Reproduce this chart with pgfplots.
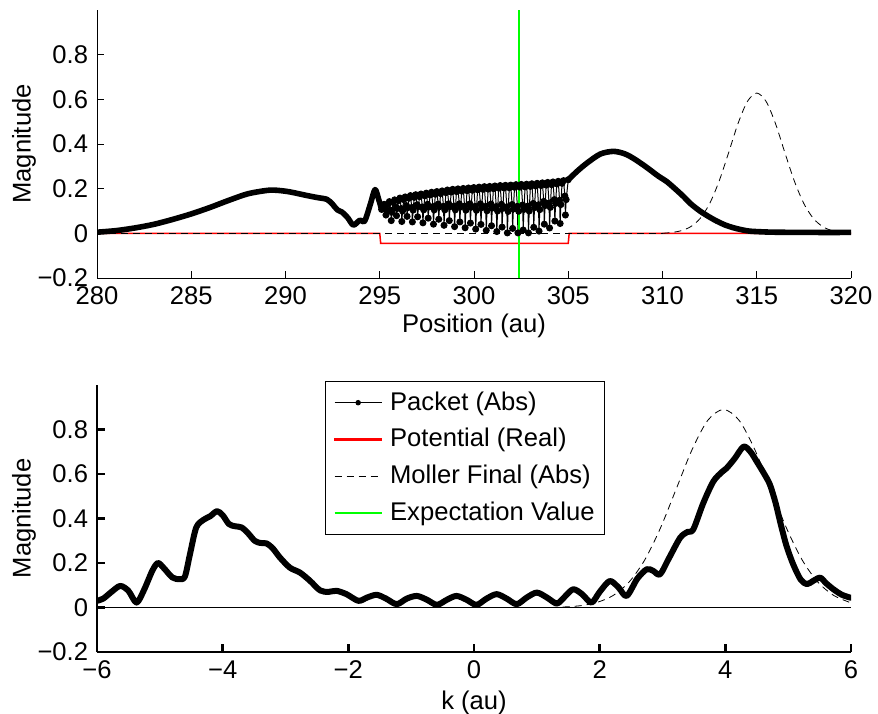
\documentclass[border=0pt]{standalone}
\usepackage{fontspec}
\setmainfont{Liberation Sans}
\usepackage{pgfplots}
\pgfplotsset{compat=1.18}
\definecolor{mgreen}{rgb}{0,1,0}
\definecolor{mred}{rgb}{1,0,0}
\begin{document}
\fontsize{12.8}{15}\selectfont
\begin{tikzpicture}
\useasboundingbox (0,0) rectangle (439pt,356.5pt);
% ---------------- top axis ----------------
\begin{axis}[
  at={(48.5pt,217.5pt)}, anchor=south west,
  scale only axis, width=377pt, height=134pt,
  xmin=280, xmax=320, ymin=-0.2, ymax=1,
  axis x line*=bottom, axis y line*=left,
  axis line style={line width=0.5pt,-},
  tick align=inside, major tick length=3.5pt,
  major tick style={line width=0.5pt,black},
  xtick={280,285,...,320},
  xticklabels={280,285,290,295,300,305,310,315,320},
  ytick={-0.2,0,0.2,0.4,0.6,0.8},
  yticklabels={−0.2,0,0.2,0.4,0.6,0.8},
  xlabel={Position (au)}, ylabel={Magnitude},
  ylabel style={at={(axis description cs:-0.0968,0.5)}, anchor=center},
  xlabel style={yshift=4.5pt},
  label style={font=\fontsize{12.8}{15}\selectfont},
  ticklabel style={font=\fontsize{12.8}{15}\selectfont},
]
% potential (real)
\addplot[mred, line width=0.75pt] coordinates {(280,0)(295,0)(295.05,-0.045)(305,-0.045)(305.05,0)(320,0)};
% moller final
\addplot[black, line width=0.4pt, dash pattern=on 3.5pt off 2.5pt] coordinates {(280,0)(310,0)};
\addplot[black, line width=0.4pt, dash pattern=on 3.5pt off 2.5pt, smooth] coordinates {
(310,0)(310.5,0.004)(311,0.012)(311.5,0.030)(312,0.067)(312.5,0.133)(313,0.233)(313.5,0.359)(314,0.490)(314.5,0.590)(315,0.628)(315.5,0.590)(316,0.490)(316.5,0.359)(317,0.233)(317.5,0.133)(318,0.067)(318.5,0.030)(319,0.012)(319.5,0.004)(320,0.001)};
% packet smooth parts
\addplot[black, line width=2.8pt, line join=round, line cap=round, smooth] coordinates {
(280,0.005)(281,0.012)(282,0.024)(283,0.04)(284,0.062)(285,0.087)(286,0.116)(287,0.148)(288,0.177)(289,0.192)(289.5,0.193)(290.2,0.186)(291.1,0.17)(291.7,0.16)(292.2,0.152)(292.5,0.13)(292.75,0.105)(293.0,0.095)(293.3,0.07)(293.6,0.037)(293.95,0.059)(294.2,0.055)(294.5,0.13)(294.75,0.196)(294.95,0.15)(295.1,0.107)};
\addplot[black, line width=2.8pt, line join=round, line cap=round, smooth] coordinates {
(305.0,0.24)(305.5,0.28)(306,0.315)(306.7,0.355)(307.4,0.367)(308,0.356)(308.45,0.336)(309,0.305)(309.34,0.284)(309.8,0.255)(310.22,0.232)(310.7,0.197)(311.1,0.166)(311.5,0.132)(312,0.099)(312.45,0.075)(312.87,0.055)(313.3,0.038)(313.76,0.025)(314.2,0.016)(314.6,0.01)(315.2,0.007)(316,0.005)(318,0.004)(320,0.004)};
% packet oscillating part
\addplot[black, line width=0.5pt, mark=*, mark size=1.5pt] coordinates {
(295.1,0.107)
(295.15,.118)(295.23,.130)(295.30,.108)(295.33,.082)(295.37,.104)
(295.43,.130)(295.51,.142)(295.58,.104)(295.61,.057)(295.65,.095)
(295.71,.138)(295.79,.150)(295.86,.118)(295.89,.079)(295.93,.111)
(295.99,.146)(296.07,.158)(296.14,.111)(296.17,.053)(296.21,.100)
(296.27,.151)(296.35,.163)(296.42,.124)(296.45,.076)(296.49,.115)
(296.55,.157)(296.63,.169)(296.70,.116)(296.73,.051)(296.77,.104)
(296.83,.161)(296.91,.173)(296.98,.128)(297.01,.074)(297.05,.119)
(297.11,.164)(297.19,.176)(297.26,.118)(297.29,.047)(297.33,.105)
(297.39,.168)(297.47,.180)(297.54,.130)(297.57,.068)(297.61,.118)
(297.67,.172)(297.75,.184)(297.82,.120)(297.85,.041)(297.89,.105)
(297.95,.175)(298.03,.187)(298.10,.131)(298.13,.063)(298.17,.119)
(298.23,.178)(298.31,.190)(298.38,.121)(298.41,.036)(298.45,.105)
(298.51,.182)(298.59,.194)(298.66,.132)(298.69,.057)(298.73,.119)
(298.79,.185)(298.87,.197)(298.94,.122)(298.97,.030)(299.01,.105)
(299.07,.187)(299.15,.199)(299.22,.132)(299.25,.051)(299.29,.118)
(299.35,.189)(299.43,.201)(299.50,.122)(299.53,.025)(299.57,.104)
(299.63,.191)(299.71,.203)(299.78,.132)(299.81,.046)(299.85,.117)
(299.91,.193)(299.99,.205)(300.06,.121)(300.09,.019)(300.13,.103)
(300.19,.195)(300.27,.207)(300.34,.132)(300.37,.040)(300.41,.115)
(300.47,.197)(300.55,.209)(300.62,.121)(300.65,.013)(300.69,.101)
(300.75,.198)(300.83,.210)(300.90,.131)(300.93,.034)(300.97,.113)
(301.03,.200)(301.11,.212)(301.18,.120)(301.21,.008)(301.25,.100)
(301.31,.202)(301.39,.214)(301.46,.130)(301.49,.028)(301.53,.112)
(301.59,.203)(301.67,.215)(301.74,.119)(301.77,.002)(301.81,.098)
(301.87,.204)(301.95,.216)(302.02,.129)(302.05,.022)(302.09,.109)
(302.15,.206)(302.23,.218)(302.30,.121)(302.33,.002)(302.37,.099)
(302.43,.207)(302.51,.219)(302.58,.127)(302.61,.015)(302.65,.107)
(302.71,.208)(302.79,.220)(302.86,.122)(302.89,.002)(302.93,.100)
(302.99,.210)(303.07,.222)(303.14,.134)(303.17,.027)(303.21,.115)
(303.27,.212)(303.35,.224)(303.42,.128)(303.45,.010)(303.49,.106)
(303.55,.214)(303.63,.226)(303.70,.143)(303.73,.041)(303.77,.124)
(303.83,.216)(303.91,.228)(303.98,.136)(304.01,.024)(304.05,.116)
(304.11,.218)(304.19,.230)(304.26,.151)(304.29,.055)(304.33,.134)
(304.39,.221)(304.47,.233)(304.54,.148)(304.57,.044)(304.61,.129)
(304.67,.224)(304.75,.236)(304.82,.167)(304.85,.082)(304.89,.151)
(305.0,.24)};
% expectation value
\addplot[mgreen, line width=1pt] coordinates {(302.39,-0.2)(302.39,1)};
\end{axis}
% ---------------- bottom axis ----------------
\begin{axis}[
  at={(48.5pt,30.5pt)}, anchor=south west,
  scale only axis, width=377pt, height=133.5pt,
  xmin=-6, xmax=6, ymin=-0.2, ymax=1,
  axis x line*=bottom, axis y line*=left,
  axis line style={line width=1.3pt,-},
  tick align=inside, major tick length=4pt,
  major tick style={line width=1.3pt,black},
  xtick={-6,-4,-2,0,2,4,6},
  xticklabels={−6,−4,−2,0,2,4,6},
  ytick={-0.2,0,0.2,0.4,0.6,0.8},
  yticklabels={−0.2,0,0.2,0.4,0.6,0.8},
  xlabel={k (au)}, ylabel={Magnitude},
  ylabel style={at={(axis description cs:-0.0968,0.5)}, anchor=center},
  xlabel style={yshift=3pt},
  label style={font=\fontsize{12.8}{15}\selectfont},
  ticklabel style={font=\fontsize{12.8}{15}\selectfont},
  legend style={at={(axis description cs:0.3026,1.015)}, anchor=north west,
    draw=black, line width=0.5pt, fill=white, inner xsep=4pt, inner ysep=3pt,
    nodes={inner xsep=1pt},
    row sep=3.2pt, font=\fontsize{12.8}{15}\selectfont, cells={anchor=west}},
  legend cell align=left,
]
\addlegendimage{legend image code/.code={\draw[black,line width=0.5pt] (0pt,0pt) -- (23.5pt,0pt); \fill[black] (11.75pt,0pt) circle (1.1pt); \path (26.5pt,0pt);}}
\addlegendentry{Packet (Abs)}
\addlegendimage{legend image code/.code={\fill[mred] (0pt,-0.35pt) rectangle (23.5pt,0.35pt); \path (26.5pt,0pt);}}
\addlegendentry{Potential (Real)}
\addlegendimage{legend image code/.code={\draw[black,line width=0.4pt,dash pattern=on 3.5pt off 2.5pt] (0pt,0pt) -- (23.5pt,0pt); \path (26.5pt,0pt);}}
\addlegendentry{Moller Final (Abs)}
\addlegendimage{legend image code/.code={\draw[mgreen,line width=1pt] (0pt,0pt) -- (23.5pt,0pt); \path (26.5pt,0pt);}}
\addlegendentry{Expectation Value}
\addplot[forget plot, black, line width=0.7pt] coordinates {(-6,0)(6,0)};
\addplot[forget plot, black, line width=0.4pt, dash pattern=on 3.5pt off 2.5pt, smooth] coordinates {
(1.22,0)(1.47,0.003)(1.72,0.009)(1.97,0.024)(2.22,0.055)(2.47,0.115)(2.72,0.215)(2.97,0.359)(3.22,0.534)(3.47,0.709)(3.72,0.841)(3.97,0.89)(4.22,0.841)(4.47,0.709)(4.72,0.534)(4.97,0.359)(5.22,0.215)(5.47,0.115)(5.72,0.055)(5.97,0.024)(6,0.022)};
\addplot[forget plot, black, line width=3pt, line join=round, line cap=round, smooth] coordinates {
(-6,0.03)(-5.9,0.04)(-5.77,0.07)(-5.63,0.097)(-5.5,0.075)(-5.37,0.022)(-5.25,0.08)(-5.12,0.165)(-5.03,0.2)(-4.93,0.175)(-4.8,0.135)(-4.68,0.127)(-4.6,0.14)(-4.52,0.24)(-4.42,0.36)(-4.3,0.395)(-4.2,0.41)(-4.09,0.433)(-4.0,0.415)(-3.9,0.375)(-3.8,0.365)(-3.7,0.36)(-3.6,0.335)(-3.49,0.3)(-3.4,0.29)(-3.3,0.288)(-3.2,0.265)(-3.09,0.225)(-2.93,0.179)(-2.77,0.157)(-2.61,0.12)(-2.45,0.077)(-2.32,0.07)(-2.19,0.075)(-2.03,0.06)(-1.84,0.03)(-1.7,0.045)(-1.55,0.057)(-1.4,0.04)(-1.23,0.015)(-1.07,0.04)(-0.91,0.052)(-0.75,0.035)(-0.59,0.012)(-0.43,0.035)(-0.28,0.052)(-0.12,0.035)(0.04,0.012)(0.2,0.04)(0.36,0.06)(0.52,0.04)(0.68,0.015)(0.84,0.045)(1.0,0.067)(1.16,0.045)(1.32,0.018)(1.45,0.05)(1.58,0.082)(1.72,0.06)(1.87,0.022)(2.0,0.07)(2.16,0.119)(2.3,0.09)(2.43,0.052)(2.6,0.13)(2.75,0.172)(2.85,0.165)(2.96,0.149)(3.1,0.22)(3.28,0.313)(3.4,0.34)(3.49,0.351)(3.65,0.47)(3.81,0.567)(3.95,0.61)(4.02,0.626)(4.15,0.67)(4.29,0.723)(4.4,0.7)(4.5,0.656)(4.62,0.6)(4.71,0.552)(4.8,0.47)(4.87,0.388)(4.97,0.28)(5.08,0.194)(5.2,0.125)(5.3,0.105)(5.4,0.12)(5.51,0.134)(5.6,0.11)(5.72,0.082)(5.85,0.058)(5.98,0.045)(6,0.044)};
\end{axis}
\end{tikzpicture}
\end{document}
